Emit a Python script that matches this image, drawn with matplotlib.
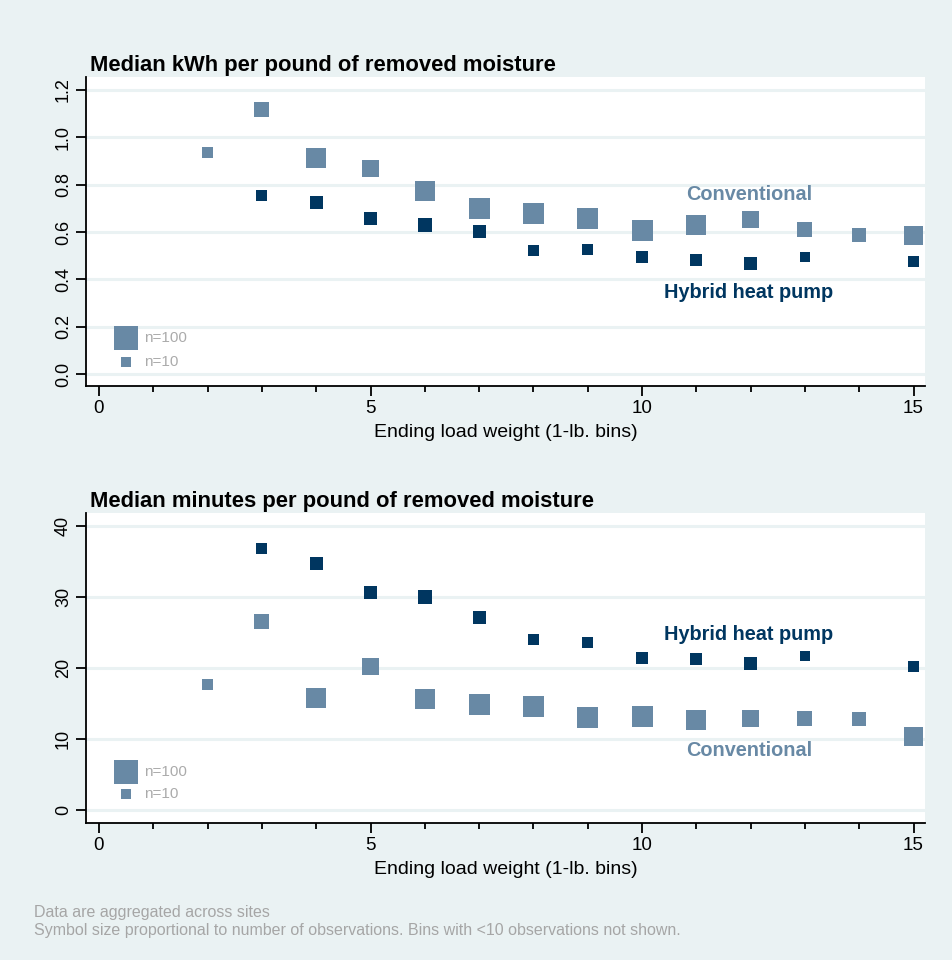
import numpy as np
import matplotlib
matplotlib.use("Agg")
import matplotlib.pyplot as plt

plt.rcParams['font.family'] = ['Liberation Sans', 'DejaVu Sans']

# Bins (ending load weight, lb)
conv_x = [2, 3, 4, 5, 6, 7, 8, 9, 10, 11, 12, 13, 14, 15]
hyb_x = [3, 4, 5, 6, 7, 8, 9, 10, 11, 12, 13, 15]

# Observations per bin (estimated from symbol size)
conv_n = [13, 29, 62, 40, 62, 70, 70, 70, 70, 62, 40, 29, 23, 54]
hyb_n = [13, 20, 20, 24, 20, 13, 13, 16, 16, 20, 10, 13]

# Median kWh per pound of removed moisture
conv_kwh = [0.937, 1.118, 0.913, 0.869, 0.775, 0.700, 0.680, 0.658, 0.607, 0.630, 0.651, 0.611, 0.586, 0.586]
hyb_kwh = [0.755, 0.725, 0.658, 0.631, 0.603, 0.523, 0.527, 0.494, 0.483, 0.468, 0.494, 0.476]

# Median minutes per pound of removed moisture
conv_min = [17.7, 26.5, 15.8, 20.2, 15.6, 14.9, 14.6, 13.0, 13.2, 12.7, 12.9, 12.9, 12.8, 10.4]
hyb_min = [36.8, 34.7, 30.6, 29.9, 27.1, 24.0, 23.6, 21.4, 21.3, 20.6, 21.7, 20.2]

legend_n = [100, 10]

BG = '#EAF2F3'
C_CONV = '#6889A5'
C_HYB = '#003660'
DPI = 100


def marker_area(n):
    # side in pixels, 10 px for n=10 and 24 px for n=100
    side_px = 10 * (np.asarray(n, dtype=float) / 10) ** 0.38
    side_pt = side_px * 72 / DPI
    return side_pt ** 2


fig = plt.figure(figsize=(9.52, 9.60), dpi=DPI, facecolor=BG)


def panel(rect, conv_y, hyb_y, title, ylim, yticks, yfmt, leg_y, conv_lab, hyb_lab):
    ax = fig.add_axes(rect)
    ax.set_facecolor('white')
    ax.set_xlim(-0.24, 15.21)
    ax.set_ylim(*ylim)
    for s in ['top', 'right']:
        ax.spines[s].set_visible(False)
    for s in ['left', 'bottom']:
        ax.spines[s].set_linewidth(1.3)
    ax.set_yticks(yticks)
    ax.set_yticklabels([yfmt.format(v) for v in yticks], rotation=90, va='center', fontsize=13)
    ax.set_xticks([0, 5, 10, 15])
    ax.set_xticks(range(16), minor=True)
    ax.set_xticklabels(['0', '5', '10', '15'], fontsize=13.5)
    ax.tick_params(axis='both', which='major', length=7, width=1.3, pad=3)
    ax.tick_params(axis='x', which='minor', length=4.5, width=1.3)
    ax.grid(axis='y', color=BG, linewidth=2.2)
    ax.set_axisbelow(True)

    ax.scatter(conv_x, conv_y, s=marker_area(conv_n), marker='s', color=C_CONV, linewidths=0, zorder=3)
    ax.scatter(hyb_x, hyb_y, s=marker_area(hyb_n), marker='s', color=C_HYB, linewidths=0, zorder=3)

    # size legend
    ax.scatter([0.5, 0.5], leg_y, s=marker_area(legend_n), marker='s', color=C_CONV, linewidths=0, zorder=3)
    for n, y in zip(legend_n, leg_y):
        ax.text(0.83, y, 'n=%d' % n, color='#ABABAB', fontsize=11, va='center', ha='left')

    ax.text(conv_lab[0], conv_lab[1], 'Conventional', color=C_CONV, fontsize=14.3,
            fontweight='bold', ha='center', va='center')
    ax.text(hyb_lab[0], hyb_lab[1], 'Hybrid heat pump', color=C_HYB, fontsize=14.3,
            fontweight='bold', ha='center', va='center')

    ax.set_xlabel('Ending load weight (1-lb. bins)', fontsize=14, labelpad=5)
    ax.set_title(title, loc='left', fontsize=15.8, fontweight='bold', x=0.005, pad=4)
    return ax


panel([0.0903, 0.5979, 0.8813, 0.3219], conv_kwh, hyb_kwh,
      'Median kWh per pound of removed moisture',
      (-0.051, 1.255), [0.0, 0.2, 0.4, 0.6, 0.8, 1.0, 1.2], '{:.1f}',
      [0.152, 0.05], (11.97, 0.76), (11.97, 0.343))

panel([0.0903, 0.1430, 0.8813, 0.3226], conv_min, hyb_min,
      'Median minutes per pound of removed moisture',
      (-1.79, 41.77), [0, 10, 20, 30, 40], '{:d}',
      [5.4, 2.2], (11.97, 8.3), (11.97, 24.7))

fig.text(34 / 952, 1 - 913 / 960, 'Data are aggregated across sites',
         color='#A6A6A6', fontsize=11.5, va='center')
fig.text(34 / 952, 1 - 930 / 960,
         'Symbol size proportional to number of observations. Bins with <10 observations not shown.',
         color='#A6A6A6', fontsize=11.5, va='center')

fig.savefig('out.png', dpi=DPI, facecolor=BG)
